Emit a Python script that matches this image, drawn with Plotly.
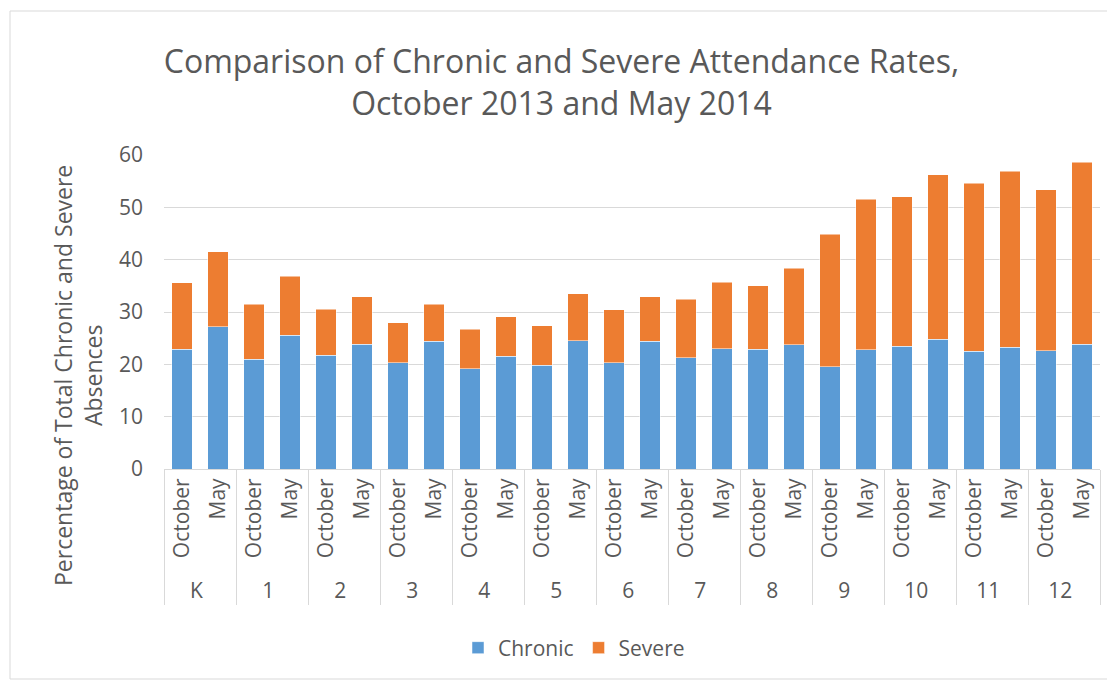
import plotly.graph_objects as go

grades = ["K", "1", "2", "3", "4", "5", "6", "7", "8", "9", "10", "11", "12"]
months = ["October", "May"]
chronic = [22.9, 27.2, 21.0, 25.6, 21.7, 23.8, 20.3, 24.4, 19.2, 21.5, 19.8, 24.5,
           20.3, 24.4, 21.3, 23.0, 22.9, 23.7, 19.5, 22.8, 23.5, 24.8, 22.5, 23.3, 22.6, 23.8]
total = [35.6, 41.5, 31.5, 36.8, 30.5, 32.9, 27.9, 31.5, 26.7, 29.1, 27.4, 33.5,
         30.4, 32.9, 32.4, 35.7, 35.0, 38.4, 44.9, 51.5, 52.0, 56.2, 54.6, 56.9, 53.4, 58.6]
severe = [round(t - c, 1) for t, c in zip(total, chronic)]

xg = [g for g in grades for _ in months]
xm = [m for _ in grades for m in months]

font = "'Open Sans', sans-serif"
grey = "#595959"

fig = go.Figure()
fig.add_trace(go.Bar(x=[xg, xm], y=chronic, name="Chronic",
                     marker=dict(color="#5B9BD5", line=dict(color="#ffffff", width=0.5))))
fig.add_trace(go.Bar(x=[xg, xm], y=severe, name="Severe",
                     marker=dict(color="#ED7D31", line=dict(color="#ffffff", width=0.5))))

# page has an 8px body margin; figure placed at (8, 8)
OFF = 8
W, H = 1115 - OFF, 681 - OFF
PL, PR, PT, PB = 164, 1100, 155, 469   # plot area in page pixels
L, R, T, B = PL - OFF, 1115 - PR, PT - OFF, (H + OFF) - PB
pw, ph = PR - PL, PB - PT

def px(x):
    return (x - PL) / pw

def py(y):
    return (PB - y) / ph

fig.update_layout(
    barmode="stack",
    bargap=0.43,
    width=W, height=H,
    margin=dict(l=L, r=R, t=T, b=B),
    paper_bgcolor="white", plot_bgcolor="white",
    font=dict(family=font, color=grey, size=21),
    title=dict(text="Comparison of Chronic and Severe Attendance Rates,<br>October 2013 and May 2014",
               x=0.5, xanchor="center", y=1 - (73 - OFF) / H, yanchor="middle",
               font=dict(size=32, color=grey, family=font)),
    legend=dict(orientation="h", x=px(574), xanchor="center", y=py(648), yanchor="middle",
                font=dict(size=21, color=grey), traceorder="normal"),
    xaxis=dict(type="multicategory", tickangle=-90, showline=True, linecolor="#d9d9d9",
               linewidth=1, showdividers=True, dividercolor="#d9d9d9", dividerwidth=1,
               tickfont=dict(size=21, color=grey), ticks=""),
    yaxis=dict(range=[0, 60], dtick=10, showgrid=True, gridcolor="#d9d9d9", gridwidth=1,
               zeroline=False, showline=False, tickfont=dict(size=21, color=grey),
               ticklabelstandoff=20),
    annotations=[dict(text="Percentage of Total Chronic and Severe<br>Absences",
                      xref="paper", yref="paper", x=px(78), y=py(376),
                      xanchor="center", yanchor="middle", textangle=-90, showarrow=False,
                      font=dict(size=23, color=grey, family=font))],
    shapes=[dict(type="rect", xref="paper", yref="paper",
                 x0=px(10), x1=px(1112), y0=py(679), y1=py(11),
                 line=dict(color="#d9d9d9", width=1), layer="below")],
)

fig.write_html("out.html")
